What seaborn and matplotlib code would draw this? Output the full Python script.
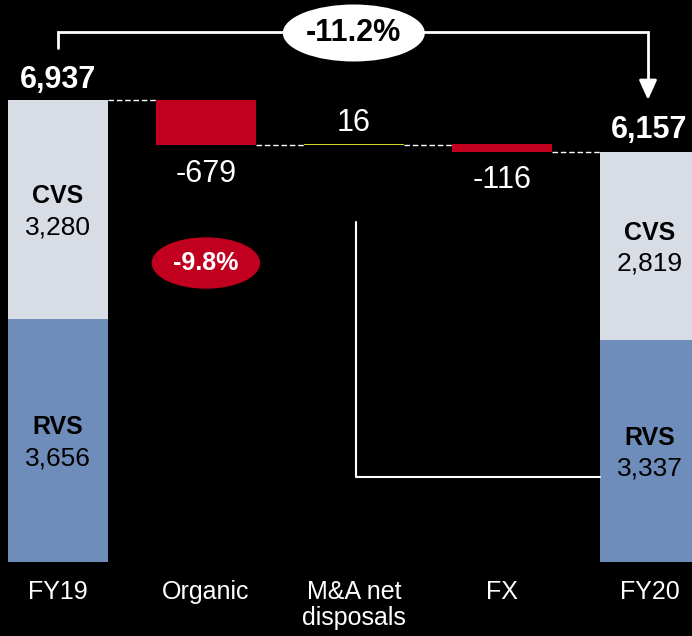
import matplotlib
matplotlib.use("Agg")
import matplotlib.pyplot as plt
from matplotlib.patches import Ellipse
import seaborn as sns
import pandas as pd

# ---- data ----
categories = ["FY19", "Organic", "M&A net\ndisposals", "FX", "FY20"]
fy19_rvs, fy19_cvs = 3656, 3280
fy20_rvs, fy20_cvs = 3337, 2819
deltas = [-679, 16, -116]
delta_labels = ["-679", "16", "-116"]
total_labels = ["6,937", "6,157"]
seg_names = ["RVS", "CVS"]
fy19_seg_labels = ["3,656", "3,280"]
fy20_seg_labels = ["3,337", "2,819"]
pct_total = "-11.2%"
pct_organic = "-9.8%"

# ---- style ----
sns.set_theme(style="white")
plt.rcParams["font.family"] = ["Liberation Sans", "DejaVu Sans"]

C_CVS = "#D7DCE5"
C_RVS = "#6E8DBA"
C_RED = "#C0001E"
C_MA = "#D2D62A"

W, H, DPI = 692, 636, 100
fig = plt.figure(figsize=(W / DPI, H / DPI), dpi=DPI, facecolor="black")
base_px = 562
ax = fig.add_axes([0, (H - base_px) / H, 1, base_px / H])
ax.set_facecolor("black")

px_per_cat = 147.9
x0_px = 58
ppu = 462 / 6937.0  # pixels per unit

bw = 0.675

def bar(cat, height, bottom, color):
    df = pd.DataFrame({"cat": [cat], "val": [height]})
    sns.barplot(data=df, x="cat", y="val", order=categories, color=color,
                width=bw, bottom=bottom, saturation=1, ax=ax,
                edgecolor="none", linewidth=0, errorbar=None)

total19 = fy19_rvs + fy19_cvs
total20 = fy20_rvs + fy20_cvs
bar(categories[0], fy19_rvs, 0, C_RVS)
bar(categories[0], fy19_cvs, fy19_rvs, C_CVS)
bar(categories[4], fy20_rvs, 0, C_RVS)
bar(categories[4], fy20_cvs, fy20_rvs, C_CVS)

level = total19
levels = [total19]
for i, d in enumerate(deltas):
    new = level + d
    color = C_MA if d > 0 else C_RED
    bar(categories[i + 1], abs(d), min(level, new), color)
    level = new
    levels.append(level)

ax.set_xlim(-x0_px / px_per_cat, (W - x0_px) / px_per_cat)
ax.set_ylim(0, base_px / ppu)
ax.set_xlabel("")
ax.set_ylabel("")
ax.set_yticks([])
for s in ax.spines.values():
    s.set_visible(False)
ax.tick_params(axis="x", length=0, pad=13, labelsize=18, labelcolor="white")
for lab in ax.get_xticklabels():
    lab.set_linespacing(1.12)

# dashed connectors
hw = bw / 2
conn_levels = [total19, levels[1], levels[1], levels[3]]
for i in range(4):
    y = conn_levels[i]
    ax.plot([i + hw, i + 1 - hw], [y, y], color="white", lw=1, ls=(0, (4, 2)))

def off(x, y, dy_px, text, **kw):
    ax.annotate(text, (x, y), xytext=(0, dy_px * 72 / DPI), textcoords="offset points",
                ha="center", va="baseline", annotation_clip=False, **kw)

off(0, total19, 12, total_labels[0], color="white", fontsize=22, fontweight="bold")
off(4, total20, 14, total_labels[1], color="white", fontsize=22, fontweight="bold")

off(1, levels[1], -37, delta_labels[0], color="white", fontsize=22)
off(2, levels[2], 13, delta_labels[1], color="white", fontsize=22)
off(3, levels[3], -36, delta_labels[2], color="white", fontsize=22)

for xi, rvs, cvs, labs in [(0, fy19_rvs, fy19_cvs, fy19_seg_labels),
                           (4, fy20_rvs, fy20_cvs, fy20_seg_labels)]:
    for name, lo, h, lab in [(seg_names[0], 0, rvs, labs[0]), (seg_names[1], rvs, cvs, labs[1])]:
        c = lo + h / 2
        off(xi, c, 6, name, color="black", fontsize=18, fontweight="bold")
        off(xi, c, -25, lab, color="black", fontsize=19)

yc = (base_px - 263) / ppu
ax.add_patch(Ellipse((1, yc), 107 / px_per_cat, 50 / ppu, color=C_RED, clip_on=False))
ax.text(1, yc, pct_organic, ha="center", va="center", color="white",
        fontsize=18, fontweight="bold")

xa = (648 - x0_px) / px_per_cat
yb = (base_px - 32) / ppu
ax.plot([0, 0, xa, xa], [(base_px - 48) / ppu, yb, yb, (base_px - 88) / ppu],
        color="white", lw=2, clip_on=False, solid_joinstyle="miter")
ax.annotate("", xy=(xa, total19), xytext=(xa, (base_px - 82) / ppu),
            arrowprops=dict(arrowstyle="-|>,head_length=1.0,head_width=0.45",
                            color="white", lw=2, shrinkA=0, shrinkB=0),
            annotation_clip=False)
yc2 = (base_px - 33) / ppu
ax.add_patch(Ellipse((2, yc2), 142 / px_per_cat, 57 / ppu, facecolor="white",
                     edgecolor="none", clip_on=False))
ax.text(2, yc2, pct_total, ha="center", va="center", color="black",
        fontsize=22, fontweight="bold")

xl = (356 - x0_px) / px_per_cat
ax.plot([xl, xl, 4 - hw], [(base_px - 222) / ppu, (base_px - 477) / ppu, (base_px - 477) / ppu],
        color="white", lw=1.5, clip_on=False)

fig.savefig("out.png", dpi=DPI, facecolor="black")
